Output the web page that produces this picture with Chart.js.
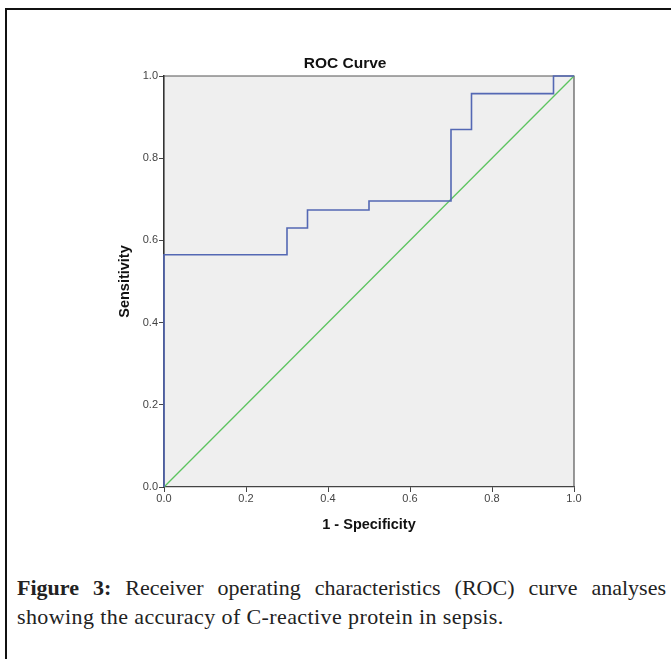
<!DOCTYPE html>
<html lang="en">
<head>
    <meta charset="UTF-8">
    <title>ROC Curve</title>
    <script src="https://cdn.jsdelivr.net/npm/chart.js"></script>
    <style>
        body { margin: 0; background: #fff; width: 671px; height: 659px; overflow: hidden; position: relative; }
        #frame { position: absolute; left: 5px; top: 8px; width: 700px; height: 700px; border-top: 2px solid #111; border-left: 2px solid #111; }
        #rocChart { position: absolute; left: 0; top: 0; }
        #caption { position: absolute; left: 17px; top: 573px; width: 649px; font-family: "Liberation Serif", serif; font-size: 22px; letter-spacing: 0.4px; color: #222; line-height: 29px; }
        #caption .l1 { text-align: justify; text-align-last: justify; letter-spacing: 0; }
    </style>
</head>
<body>
    <div id="frame"></div>
    <canvas id="rocChart" width="671" height="545"></canvas>
    <div id="caption">
        <div class="l1"><b>Figure 3:</b> Receiver operating characteristics (ROC) curve analyses</div>
        <div>showing the accuracy of C-reactive protein in sepsis.</div>
    </div>
    <script>
        // ROC curve corner points
        const fpr = [0, 0, 0.30, 0.30, 0.35, 0.35, 0.50, 0.50, 0.70, 0.70, 0.75, 0.75, 0.95, 0.95, 1.0];
        const tpr = [0, 0.565, 0.565, 0.630, 0.630, 0.674, 0.674, 0.696, 0.696, 0.870, 0.870, 0.957, 0.957, 1.0, 1.0];
        // reference line
        const refX = [0, 1];
        const refY = [0, 1];
        const tickValues = [0, 0.2, 0.4, 0.6, 0.8, 1.0];

        const plotBg = {
            id: 'plotBg',
            beforeDraw(chart) {
                const a = chart.chartArea, c = chart.ctx;
                c.save();
                c.fillStyle = '#efefef';
                c.fillRect(a.left, a.top, a.right - a.left, a.bottom - a.top);
                c.restore();
            },
            beforeDatasetsDraw(chart) {
                const a = chart.chartArea, c = chart.ctx;
                c.save();
                c.strokeStyle = '#555';
                c.lineWidth = 1.2;
                c.beginPath();
                c.moveTo(a.left, a.top);
                c.lineTo(a.right, a.top);
                c.lineTo(a.right, a.bottom);
                c.stroke();
                c.restore();
            }
        };

        const axisFont = { family: 'Liberation Sans', size: 11 };
        const titleFont = { family: 'Liberation Sans', size: 14.5, weight: 'bold' };

        const ctx = document.getElementById('rocChart').getContext('2d');
        new Chart(ctx, {
            type: 'scatter',
            data: {
                datasets: [{
                    label: 'Curve',
                    data: fpr.map((x, i) => ({ x: x, y: tpr[i] })),
                    showLine: true,
                    borderColor: '#5468b4',
                    borderWidth: 1.6,
                    pointRadius: 0,
                    clip: 3
                }, {
                    label: 'Reference Line',
                    data: refX.map((x, i) => ({ x: x, y: refY[i] })),
                    showLine: true,
                    borderColor: '#5cc45f',
                    borderWidth: 1.3,
                    pointRadius: 0,
                    clip: 3
                }]
            },
            options: {
                responsive: false,
                animation: false,
                layout: { padding: { left: 116.3, right: 97, top: 54.7, bottom: 11.3 } },
                plugins: {
                    legend: { display: false },
                    tooltip: { enabled: false },
                    title: {
                        display: true,
                        text: 'ROC Curve',
                        color: '#111',
                        font: { family: 'Liberation Sans', size: 15.5, weight: 'bold' },
                        padding: { top: 0, bottom: 2.7 }
                    }
                },
                scales: {
                    x: {
                        type: 'linear',
                        min: 0, max: 1,
                        afterBuildTicks: s => { s.ticks = tickValues.map(v => ({ value: v })); },
                        afterFit: s => { s.height = 46.7; },
                        ticks: { font: axisFont, color: '#444', padding: 0, maxRotation: 0, callback: v => v.toFixed(1) },
                        grid: { drawOnChartArea: false, drawTicks: true, tickLength: 5, color: '#444' },
                        border: { display: true, color: '#444', width: 1.2 },
                        title: { display: true, text: '1 - Specificity', color: '#111', font: titleFont, padding: 0 }
                    },
                    y: {
                        type: 'linear',
                        min: 0, max: 1,
                        afterBuildTicks: s => { s.ticks = tickValues.map(v => ({ value: v })); },
                        afterFit: s => { s.width = 47.7; },
                        ticks: { font: axisFont, color: '#444', padding: 1, callback: v => v.toFixed(1) },
                        grid: { drawOnChartArea: false, drawTicks: true, tickLength: 5, color: '#444' },
                        border: { display: true, color: '#333', width: 1.6 },
                        title: { display: true, text: 'Sensitivity', color: '#111', font: titleFont, padding: 0 }
                    }
                }
            },
            plugins: [plotBg]
        });
    </script>
</body>
</html>
